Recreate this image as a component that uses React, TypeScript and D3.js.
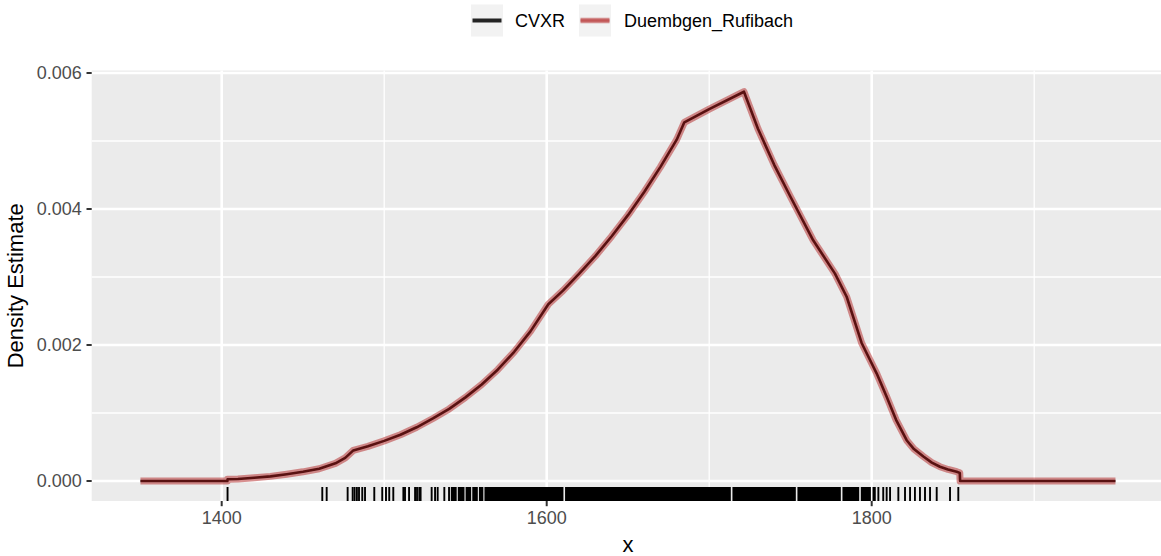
import * as d3 from "d3";

// density estimate (both fits coincide)
const densityX = [
  1350, 1403.5, 1403.6, 1410, 1420, 1430, 1440, 1450, 1460, 1470, 1476, 1481,
  1490, 1500, 1510, 1520, 1530, 1540, 1550, 1560, 1570, 1580, 1590, 1601,
  1610, 1620, 1630, 1640, 1650, 1660, 1670, 1680, 1684.7, 1700, 1721.4,
  1730, 1740, 1750, 1764, 1777.4, 1784.6, 1793.8, 1803.1, 1809.2, 1815,
  1821.5, 1826, 1831.8, 1837, 1842, 1847, 1852.3, 1854.2, 1854.4, 1950,
];
const densityCvxr = [
  0, 0, 0.000025, 0.00003, 0.000048, 0.000068, 0.0001, 0.000135, 0.00018, 0.00026, 0.00034, 0.00045,
  0.00051, 0.00059, 0.00068, 0.00079, 0.00092, 0.00106, 0.00123, 0.00142, 0.00164, 0.0019, 0.0022, 0.0026,
  0.0028, 0.00305, 0.00331, 0.0036, 0.00391, 0.00425, 0.00462, 0.00502, 0.005275, 0.00547, 0.005725,
  0.00518, 0.00465, 0.00418, 0.00354, 0.00305, 0.00271, 0.00203, 0.00158, 0.00124, 0.0009,
  0.0006, 0.00047, 0.00036, 0.00027, 0.00021, 0.00017, 0.000137, 0.00012, 0, 0,
];
const densityDR = densityCvxr.slice();

// rug: single ticks and stretches where the ticks merge into black
const rugPoints = [
  1403.6, 1461.9, 1464.6, 1477.5, 1480.6, 1481.8, 1483.2, 1484.5, 1486.5, 1488.2, 1493.9,
  1498.8, 1501.1, 1503.1, 1505.6, 1511.8, 1512.8, 1515.3, 1519.0, 1520.2, 1521.6, 1522.4,
  1529.2, 1531.3, 1532.9, 1537.0, 1539.9,
  1804.1, 1807.1, 1809.2, 1811.3, 1816.4,
  1820.5, 1823.6, 1826.6, 1829.7, 1832.8, 1835.9, 1840.0, 1848.2, 1853.3,
];
const rugSpans = [
  [1541.0, 1544.6], [1545.3, 1549.4], [1550.1, 1553.5], [1554.2, 1557.6], [1558.3, 1561.0],
  [1561.7, 1610.3], [1611.3, 1713.3], [1714.3, 1753.3], [1754.3, 1781.0],
  [1782.0, 1792.3], [1793.3, 1799.5], [1800.5, 1802.5],
];

const xTicks = [1400, 1600, 1800];
const xMinor = [1500, 1700, 1900];
const yTicks = [0, 0.002, 0.004, 0.006];
const yMinor = [0.001, 0.003, 0.005];
const seriesNames = ["CVXR", "Duembgen_Rufibach"];

const W = 1161;
const H = 556;
const FONT = "'Liberation Sans', Arial, sans-serif";

export default function App() {
  const x = d3.scaleLinear().domain([1320, 1980]).range([91.7, 1164.2]);
  const y = d3.scaleLinear().domain([-0.000294, 0.006037]).range([501, 70.5]);
  const [x0, x1] = x.range();
  const [y0, y1] = y.range();

  const pts = densityX.map((d, i) => [d, densityCvxr[i], densityDR[i]]);
  const lineCvxr = d3.line<number[]>().x((d) => x(d[0])).y((d) => y(d[1]))(pts) ?? "";
  const lineDR = d3.line<number[]>().x((d) => x(d[0])).y((d) => y(d[2]))(pts) ?? "";

  const rugLen = 14;

  return (
    <svg width={W} height={H} style={{position: "absolute", left: 0, top: 0, background: "#fff"}} fontFamily={FONT}>
      <defs>
        <clipPath id="panel">
          <rect x={x0} y={y1} width={x1 - x0} height={y0 - y1} />
        </clipPath>
      </defs>

      {/* panel */}
      <rect x={x0} y={y1} width={x1 - x0} height={y0 - y1} fill="#EBEBEB" />
      {yMinor.map((t) => (
        <line key={"ym" + t} x1={x0} x2={x1} y1={y(t)} y2={y(t)} stroke="#fff" strokeWidth={1.3} />
      ))}
      {xMinor.map((t) => (
        <line key={"xm" + t} x1={x(t)} x2={x(t)} y1={y0} y2={y1} stroke="#fff" strokeWidth={1.3} />
      ))}
      {yTicks.map((t) => (
        <line key={"yg" + t} x1={x0} x2={x1} y1={y(t)} y2={y(t)} stroke="#fff" strokeWidth={2.6} />
      ))}
      {xTicks.map((t) => (
        <line key={"xg" + t} x1={x(t)} x2={x(t)} y1={y0} y2={y1} stroke="#fff" strokeWidth={2.6} />
      ))}

      <g clipPath="url(#panel)">
        <path d={lineCvxr} fill="none" stroke="#000" strokeWidth={2.6} strokeLinejoin="round" />
        <path d={lineDR} fill="none" stroke="#b22222" strokeOpacity={0.5} strokeWidth={7} strokeLinejoin="round" />

        {rugPoints.map((v, i) => (
          <line key={"r" + i} x1={x(v)} x2={x(v)} y1={y0 - rugLen} y2={y0} stroke="#000" strokeWidth={1.9} />
        ))}
        {rugSpans.map(([a, b], i) => (
          <rect key={"s" + i} x={x(a)} y={y0 - rugLen} width={x(b) - x(a)} height={rugLen} fill="#000" />
        ))}
      </g>

      {/* y axis */}
      {yTicks.map((t) => (
        <g key={"yt" + t}>
          <line x1={x0 - 5.2} x2={x0} y1={y(t)} y2={y(t)} stroke="#333" strokeWidth={2} />
          <text x={x0 - 10} y={y(t)} dy="0.35em" textAnchor="end" fontSize={18} fill="#4D4D4D">
            {d3.format(".3f")(t)}
          </text>
        </g>
      ))}
      {/* x axis */}
      {xTicks.map((t) => (
        <g key={"xt" + t}>
          <line x1={x(t)} x2={x(t)} y1={y0} y2={y0 + 5.2} stroke="#333" strokeWidth={2} />
          <text x={x(t)} y={y0 + 23} textAnchor="middle" fontSize={18} fill="#4D4D4D">
            {t}
          </text>
        </g>
      ))}

      <text x={(x0 + x1) / 2} y={552} textAnchor="middle" fontSize={22}>x</text>
      <text
        transform={`translate(${23},${(y0 + y1) / 2}) rotate(-90)`}
        textAnchor="middle"
        fontSize={22}
      >
        Density Estimate
      </text>

      {/* legend */}
      <g>
        <rect x={471} y={4.5} width={32} height={32} fill="#F2F2F2" />
        <line x1={472.5} x2={501.5} y1={20.5} y2={20.5} stroke="#000" strokeOpacity={0.85} strokeWidth={4} />
        <text x={515} y={27} fontSize={18}>{seriesNames[0]}</text>
        <rect x={579} y={4.5} width={32} height={32} fill="#F2F2F2" />
        <line x1={580.5} x2={609.5} y1={20.5} y2={20.5} stroke="#b22222" strokeOpacity={0.5} strokeWidth={5.5} />
        <line x1={580.5} x2={609.5} y1={20.5} y2={20.5} stroke="#b22222" strokeOpacity={0.5} strokeWidth={2.5} />
        <text x={624} y={27} fontSize={18}>{seriesNames[1]}</text>
      </g>
    </svg>
  );
}
